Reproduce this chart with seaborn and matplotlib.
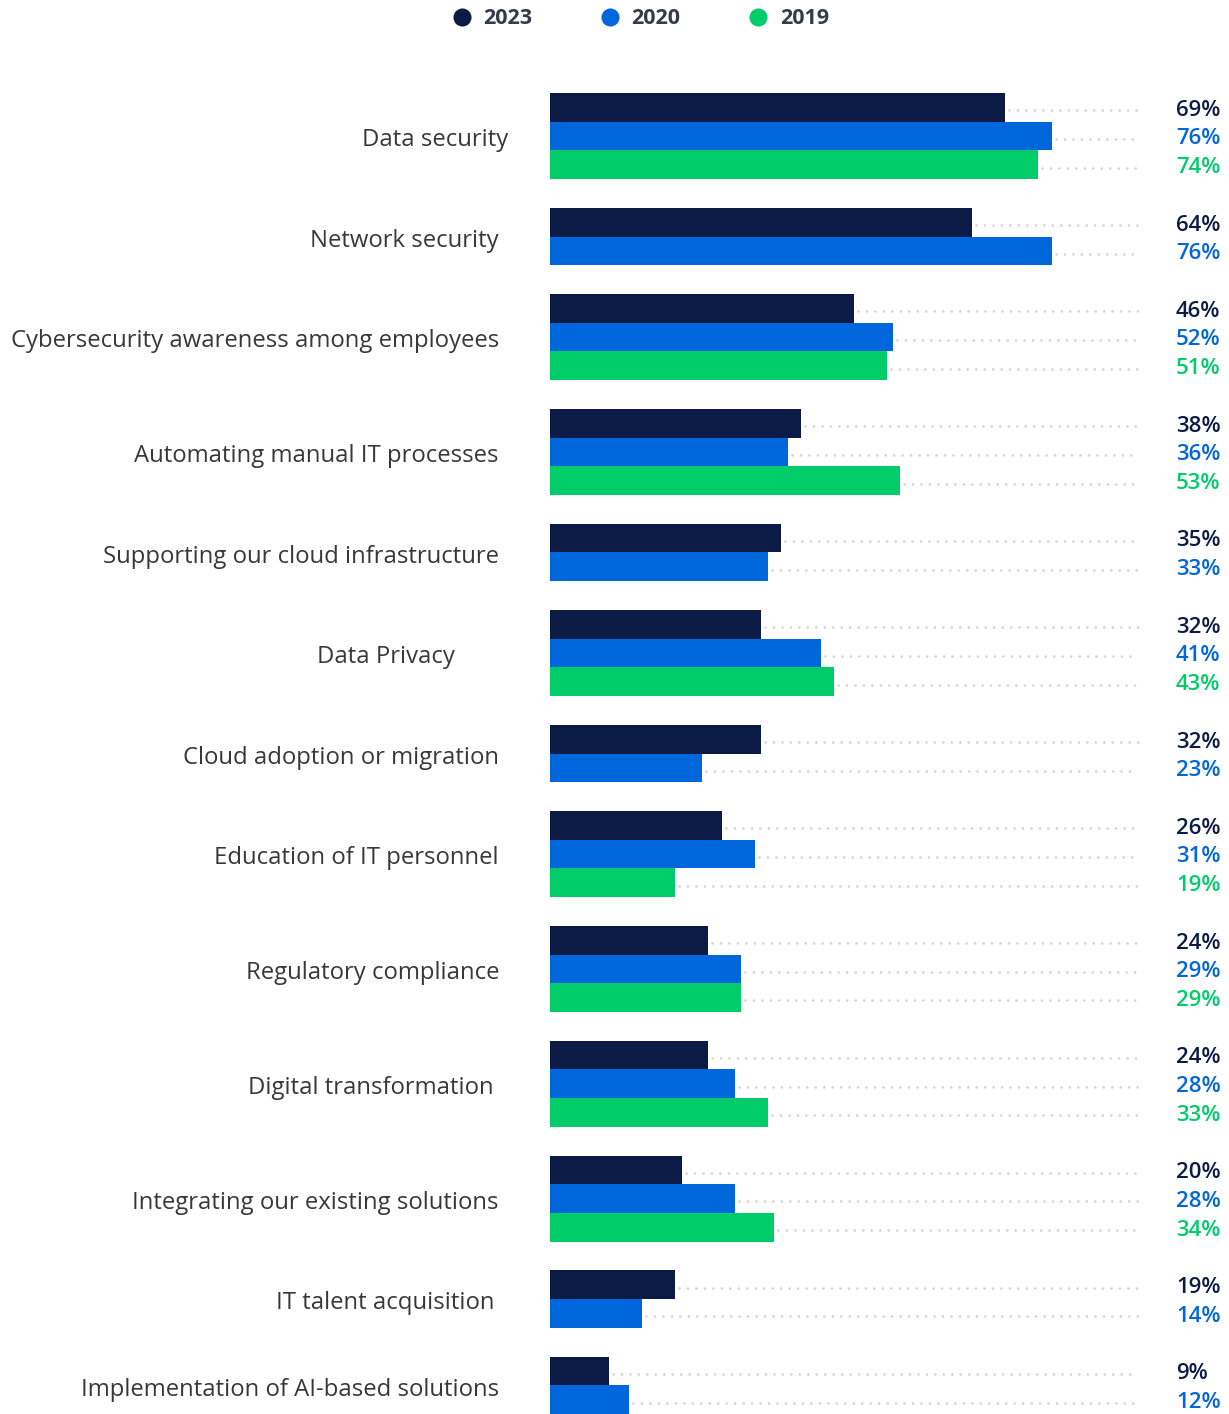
import matplotlib
matplotlib.use("Agg")
import matplotlib.pyplot as plt
import matplotlib.transforms as mtransforms
from matplotlib.lines import Line2D
import seaborn as sns
import pandas as pd

# Survey data: share of respondents naming each IT priority
categories = [
    "Data security",
    "Network security",
    "Cybersecurity awareness among employees",
    "Automating manual IT processes",
    "Supporting our cloud infrastructure",
    "Data Privacy",
    "Cloud adoption or migration",
    "Education of IT personnel",
    "Regulatory compliance",
    "Digital transformation",
    "Integrating our existing solutions",
    "IT talent acquisition",
    "Implementation of AI-based solutions",
]
years = ["2023", "2020", "2019"]
values_2023 = [69, 64, 46, 38, 35, 32, 32, 26, 24, 24, 20, 19, 9]
values_2020 = [76, 76, 52, 36, 33, 41, 23, 31, 29, 28, 28, 14, 12]
values_2019 = [74, None, 51, 53, None, 43, None, 19, 29, 33, 34, None, None]

colors = {"2023": "#0b1b45", "2020": "#0066db", "2019": "#00cc6a"}
label_nudge_px = {"Data security": 9, "Data Privacy": -44,
                  "Digital transformation": -5, "IT talent acquisition": -5}

series = {"2023": values_2023, "2020": values_2020, "2019": values_2019}

# One categorical slot per bar, with an empty slot between groups
rows, order, group_centers = [], [], []
for i, cat in enumerate(categories):
    start = len(order)
    for y in years:
        v = series[y][i]
        if v is None:
            continue
        slot = f"{i}-{y}"
        order.append(slot)
        rows.append({"slot": slot, "value": v, "year": y, "category": cat})
    group_centers.append((start + len(order) - 1) / 2)
    if i < len(categories) - 1:
        order.append(f"gap-{i}")
df = pd.DataFrame(rows)

sns.set_theme(style="white")
plt.rcParams["font.family"] = ["Open Sans", "DejaVu Sans"]

W, H = 1229, 1414
fig = plt.figure(figsize=(W / 100, H / 100), dpi=100)
ax_left, ax_right, ax_top = 550, 1140, 93
ax = fig.add_axes([ax_left / W, 0, (ax_right - ax_left) / W, 1 - ax_top / H])

sns.barplot(data=df, x="value", y="slot", hue="year", order=order,
            hue_order=years, palette=colors, saturation=1, dodge=False,
            width=1.0, orient="h", errorbar=None, linewidth=0, legend=False,
            ax=ax)

px_per_pct = 6.6
xmax = (ax_right - ax_left) / px_per_pct
ax.set_xlim(0, xmax)
ax.set_ylim(len(order) - 0.5, -0.5)
ax.set_axis_off()

blend = mtransforms.blended_transform_factory(ax.transAxes, ax.transData)
pos = {s: k for k, s in enumerate(order)}
for _, r in df.iterrows():
    yk = pos[r["slot"]] + 0.1
    # dotted guide from the bar end to the right edge
    ax.plot([r["value"] + 0.6, xmax - 0.3], [yk, yk], color="#d2d2d2",
            linewidth=1.9, linestyle=(0, (0.01, 3.2)), dash_capstyle="round",
            clip_on=False, zorder=0)
    ax.text((1176 - ax_left) / (ax_right - ax_left), yk, f"{r['value']}%",
            transform=blend, ha="left", va="center", fontsize=16,
            fontweight="semibold", color=colors[r["year"]])

for cat, yc in zip(categories, group_centers):
    xpx = 499 + label_nudge_px.get(cat, 0)
    ax.text((xpx - ax_left) / (ax_right - ax_left), yc + 0.15, cat,
            transform=blend, ha="right", va="center", fontsize=17.2,
            color="#383838")

handles = [Line2D([], [], marker="o", linestyle="", markersize=13,
                  markerfacecolor=colors[y], markeredgewidth=0) for y in years]
leg = fig.legend(handles, years, loc="center", bbox_to_anchor=(640 / W, 1 - 19 / H),
                 ncol=3, frameon=False, handlelength=1.0, handletextpad=0.5,
                 columnspacing=3.1, prop={"size": 15.5, "weight": "bold"})
for t in leg.get_texts():
    t.set_color("#333d4a")

fig.savefig("out.png", dpi=100)
